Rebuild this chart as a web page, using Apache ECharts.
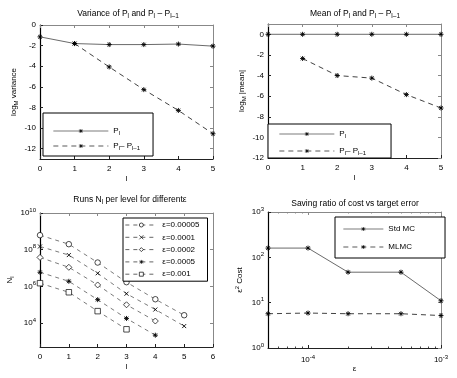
<!DOCTYPE html>
<html><head><meta charset="utf-8">
<script src="https://cdn.jsdelivr.net/npm/echarts@6/dist/echarts.min.js"></script>
<style>html,body{margin:0;padding:0;background:#fff}#c{width:457px;height:378px}</style>
</head><body><div id="c"></div>
<script>
// ---- data ----
const levels = [0, 1, 2, 3, 4, 5];
const varP = [-1.15, -1.8, -1.9, -1.9, -1.85, -2.05];
const varDiff = [null, -1.8, -4.07, -6.27, -8.29, -10.55];
const meanP = [0, 0, 0, 0, 0, 0];
const meanDiff = [null, -2.35, -4.0, -4.25, -5.85, -7.15];
const epsNames = ['ε=0.00005', 'ε=0.0001', 'ε=0.0002', 'ε=0.0005', 'ε=0.001'];
const runs00005 = [6.2e8, 2.0e8, 2.0e7, 1.7e6, 2.0e5, 2.7e4];
const runs0001 = [1.5e8, 5.1e7, 5.2e6, 4.0e5, 5.5e4, 6.9e3];
const runs0002 = [3.8e7, 1.1e7, 1.2e6, 1.0e5, 1.3e4];
const runs0005 = [5.9e6, 1.9e6, 1.9e5, 1.8e4, 2.2e3];
const runs001 = [1.5e6, 4.8e5, 4.5e4, 4.6e3];
const epsVals = [5e-5, 1e-4, 2e-4, 5e-4, 1e-3];
const stdMC = [160, 160, 47, 47, 11];
const mlmc = [5.7, 5.9, 5.7, 5.7, 5.2];
const ticks12 = [0, -2, -4, -6, -8, -10, -12];

// ---- helpers ----
const FONT = 'Liberation Sans, Arial, Helvetica, sans-serif';
const FS = 8;
const rich = {
  s: { fontSize: 6, fontFamily: FONT, padding: [5, 0, 0, 0], color: '#000' },
  u: { fontSize: 6, fontFamily: FONT, padding: [0, 0, 6, 0], color: '#000' },
  n: { fontSize: FS, fontFamily: FONT, color: '#000' }
};
const richT = {
  s: { fontSize: 6.5, fontFamily: FONT, padding: [5, 0, 0, 0], color: '#000' },
  n: { fontSize: 8.5, fontFamily: FONT, color: '#000' }
};
const STAR = 'path://M0,-5L0,5M-5,0L5,0M-3.6,-3.6L3.6,3.6M-3.6,3.6L3.6,-3.6';
const XMARK = 'path://M-3,-3L3,3M-3,3L3,-3';
const pairs = (xs, ys) => ys.map((v, i) => v == null ? null : [xs[i], v]).filter(d => d);
const pow10 = v => { const e = Math.round(Math.log10(v)); return Math.abs(Math.log10(v) - e) < 1e-6 ? '{n|10}{u|' + e + '}' : ''; };

const grids = [
  { left: 40, top: 25, width: 173, height: 134 },
  { left: 268, top: 24, width: 173, height: 134 },
  { left: 40, top: 213, width: 173, height: 134 },
  { left: 268, top: 212, width: 173, height: 136 }
];

function mainX(g, extra) {
  return Object.assign({
    gridIndex: g, type: 'value', position: 'bottom',
    axisLine: { show: true, onZero: false, lineStyle: { color: '#222', width: 1 } },
    axisTick: { inside: true, length: 3, lineStyle: { color: '#222' } },
    axisLabel: { color: '#000', fontSize: FS, fontFamily: FONT, margin: 6 },
    splitLine: { show: false },
    nameLocation: 'middle', nameGap: 16,
    nameTextStyle: { color: '#000', fontSize: FS, fontFamily: FONT }
  }, extra);
}
function topX(g, extra) {
  return Object.assign({
    gridIndex: g, type: 'value', position: 'top',
    axisLine: { show: true, onZero: false, lineStyle: { color: '#888', width: 1 } },
    axisTick: { inside: true, length: 3, lineStyle: { color: '#888' } },
    axisLabel: { show: false }, splitLine: { show: false }
  }, extra);
}
function mainY(g, extra) {
  return Object.assign({
    gridIndex: g, type: 'value', position: 'left',
    axisLine: { show: true, onZero: false, lineStyle: { color: '#000', width: 1.2 } },
    axisTick: { inside: true, length: 3, lineStyle: { color: '#222' } },
    axisLabel: { color: '#000', fontSize: FS, fontFamily: FONT, margin: 4, rich: rich },
    splitLine: { show: false },
    nameLocation: 'middle', nameGap: 22,
    nameTextStyle: { color: '#000', fontSize: FS, fontFamily: FONT, rich: rich }
  }, extra);
}
function rightY(g, extra) {
  return Object.assign({
    gridIndex: g, type: 'value', position: 'right',
    axisLine: { show: true, onZero: false, lineStyle: { color: '#888', width: 1 } },
    axisTick: { inside: true, length: 3, lineStyle: { color: '#888' } },
    axisLabel: { show: false }, splitLine: { show: false }
  }, extra);
}

const minorEps = [6e-5, 7e-5, 8e-5, 9e-5, 2e-4, 3e-4, 4e-4, 5e-4, 6e-4, 7e-4, 8e-4, 9e-4];
const xAxes = [
  mainX(0, { min: 0, max: 5, interval: 1, name: 'l' }),
  mainX(1, { min: 0, max: 5, interval: 1, name: 'l' }),
  mainX(2, { min: 0, max: 6, interval: 1, name: 'l' }),
  mainX(3, { type: 'log', min: 5e-5, max: 1e-3, name: 'ε', nameGap: 17,
    axisLabel: { color: '#000', fontSize: FS, fontFamily: FONT, margin: 6, rich: rich, customValues: [1e-4, 1e-3], formatter: pow10 },
    axisTick: { inside: true, length: 3, lineStyle: { color: '#222' }, customValues: [1e-4, 1e-3] } }),
  topX(0, { min: 0, max: 5, interval: 1 }),
  topX(1, { min: 0, max: 5, interval: 1 }),
  topX(2, { min: 0, max: 6, interval: 1 }),
  topX(3, { type: 'log', min: 5e-5, max: 1e-3, axisTick: { inside: true, length: 3, lineStyle: { color: '#888' }, customValues: [1e-4, 1e-3] } }),
  { gridIndex: 3, type: 'log', min: 5e-5, max: 1e-3, position: 'bottom', axisLine: { show: false }, axisLabel: { show: false }, splitLine: { show: false },
    axisTick: { inside: true, length: 1.5, lineStyle: { color: '#444' }, customValues: minorEps } },
  { gridIndex: 3, type: 'log', min: 5e-5, max: 1e-3, position: 'top', axisLine: { show: false }, axisLabel: { show: false }, splitLine: { show: false },
    axisTick: { inside: true, length: 1.5, lineStyle: { color: '#888' }, customValues: minorEps } }
];

const yAxes = [
  mainY(0, { min: -13, max: 0, name: '{n|log}{s|M}{n| variance}', nameGap: 21,
    axisLabel: { color: '#000', fontSize: FS, fontFamily: FONT, margin: 4, customValues: ticks12 },
    axisTick: { inside: true, length: 3, lineStyle: { color: '#222' }, customValues: ticks12 } }),
  mainY(1, { min: -12, max: 1, name: '{n|log}{s|M}{n| |mean|}', nameGap: 21,
    axisLabel: { color: '#000', fontSize: FS, fontFamily: FONT, margin: 4, customValues: ticks12 },
    axisTick: { inside: true, length: 3, lineStyle: { color: '#222' }, customValues: ticks12 } }),
  mainY(2, { type: 'log', min: 500, max: 1e10, name: '{n|N}{s|l}', nameGap: 25,
    axisLabel: { color: '#000', fontSize: FS, fontFamily: FONT, margin: 4, rich: rich, customValues: [1e4, 1e6, 1e8, 1e10], formatter: pow10 },
    axisTick: { inside: true, length: 3, lineStyle: { color: '#222' }, customValues: [1e4, 1e6, 1e8, 1e10] } }),
  mainY(3, { type: 'log', min: 1, max: 1000, name: '{n|ε}{u|2}{n| Cost}', nameGap: 22,
    axisLabel: { color: '#000', fontSize: FS, fontFamily: FONT, margin: 4, rich: rich, customValues: [1, 10, 100, 1000], formatter: pow10 },
    axisTick: { inside: true, length: 3, lineStyle: { color: '#222' }, customValues: [1, 10, 100, 1000] } }),
  rightY(0, { min: -13, max: 0, axisTick: { inside: true, length: 3, lineStyle: { color: '#888' }, customValues: ticks12 } }),
  rightY(1, { min: -12, max: 1, axisTick: { inside: true, length: 3, lineStyle: { color: '#888' }, customValues: ticks12 } }),
  rightY(2, { type: 'log', min: 500, max: 1e10, axisTick: { inside: true, length: 3, lineStyle: { color: '#888' }, customValues: [1e4, 1e6, 1e8, 1e10] } }),
  rightY(3, { type: 'log', min: 1, max: 1000, axisTick: { inside: true, length: 3, lineStyle: { color: '#888' }, customValues: [1, 10, 100, 1000] } })
];

const solid = { color: '#444', width: 0.8, type: 'solid' };
const dashed = { color: '#111', width: 0.8, type: [5, 4] };
const starItem = { color: '#000', borderColor: '#000', borderWidth: 0.9 };
const openItem = { color: '#fff', borderColor: '#000', borderWidth: 0.7 };

function lineSeries(name, g, data, ls, sym, size, item) {
  return { name: name, type: 'line', xAxisIndex: g, yAxisIndex: g, data: data,
    lineStyle: ls, symbol: sym, symbolSize: size, itemStyle: item || starItem,
    showSymbol: true, animation: false, silent: true, z: 3 };
}

const runsAll = [runs00005, runs0001, runs0002, runs0005, runs001];
const runSyms = ['circle', XMARK, 'diamond', STAR, 'rect'];
const runSizes = [5.5, 4, 6, 5, 5.5];
const runItems = [openItem, starItem, openItem, starItem, openItem];

const series = [
  lineSeries('varP', 0, pairs(levels, varP), solid, STAR, 5),
  lineSeries('varDiff', 0, pairs(levels, varDiff), dashed, STAR, 5),
  lineSeries('meanP', 1, pairs(levels, meanP), solid, STAR, 5),
  lineSeries('meanDiff', 1, pairs(levels, meanDiff), dashed, STAR, 5)
];
runsAll.forEach((r, i) => {
  series.push(lineSeries(epsNames[i], 2, pairs(levels, r), { color: '#222', width: 0.6, type: [4, 4] }, runSyms[i], runSizes[i], runItems[i]));
});
series.push(lineSeries('Std MC', 3, pairs(epsVals, stdMC), solid, STAR, 5));
series.push(lineSeries('MLMC', 3, pairs(epsVals, mlmc), dashed, STAR, 5));

const display = {
  varP: '{n|P}{s|l}', varDiff: '{n|P}{s|l}{n|– P}{s|l–1}',
  meanP: '{n|P}{s|l}', meanDiff: '{n|P}{s|l}{n|– P}{s|l–1}'
};
function legend(data, left, top, itemWidth, gap, padding, lh) {
  return { data: data, orient: 'vertical', left: left, top: top, itemWidth: itemWidth, itemHeight: 5,
    itemGap: gap, padding: padding, borderColor: '#000', borderWidth: 1, backgroundColor: '#fff',
    selectedMode: false, formatter: n => display[n] || n,
    lineStyle: { width: 0.7 }, itemStyle: { borderWidth: 0.7 },
    textStyle: { color: '#000', fontSize: FS, fontFamily: FONT, rich: rich, lineHeight: lh } };
}

const titleStyle = (t) => ({ text: t, fill: '#000', fontSize: 8.5, fontFamily: FONT, align: 'center', textAlign: 'center', verticalAlign: 'middle', textVerticalAlign: 'middle', rich: richT });

const option = {
  animation: false,
  backgroundColor: '#fff',
  grid: grids,
  xAxis: xAxes,
  yAxis: yAxes,
  series: series,
  legend: [
    legend(['varP', 'varDiff'], 43, 113, 55, 3, [12, 13, 4, 10], 12),
    legend(['meanP', 'meanDiff'], 268, 124, 55, 5, [4, 25, 1, 11], 12),
    legend(epsNames, 123, 218, 32, 2.3, [2, 8, 2, 2], 10),
    legend(['Std MC', 'MLMC'], 335, 217, 40, 6, [6, 30, 5, 8], 12)
  ],
  graphic: [
    { type: 'text', x: 128, y: 14, style: titleStyle('{n|Variance of P}{s|l}{n| and P}{s|l}{n| – P}{s|l–1}') },
    { type: 'text', x: 355, y: 14, style: titleStyle('{n|Mean of P}{s|l}{n| and P}{s|l}{n| – P}{s|l–1}') },
    { type: 'text', x: 130, y: 200, style: titleStyle('{n|Runs N}{s|l}{n| per level for differentε}') },
    { type: 'text', x: 355, y: 204, style: titleStyle('{n|Saving ratio of cost vs target error}') }
  ]
};
const chart = echarts.init(document.getElementById('c'), null, { renderer: 'canvas' });
chart.setOption(option);
</script></body></html>
